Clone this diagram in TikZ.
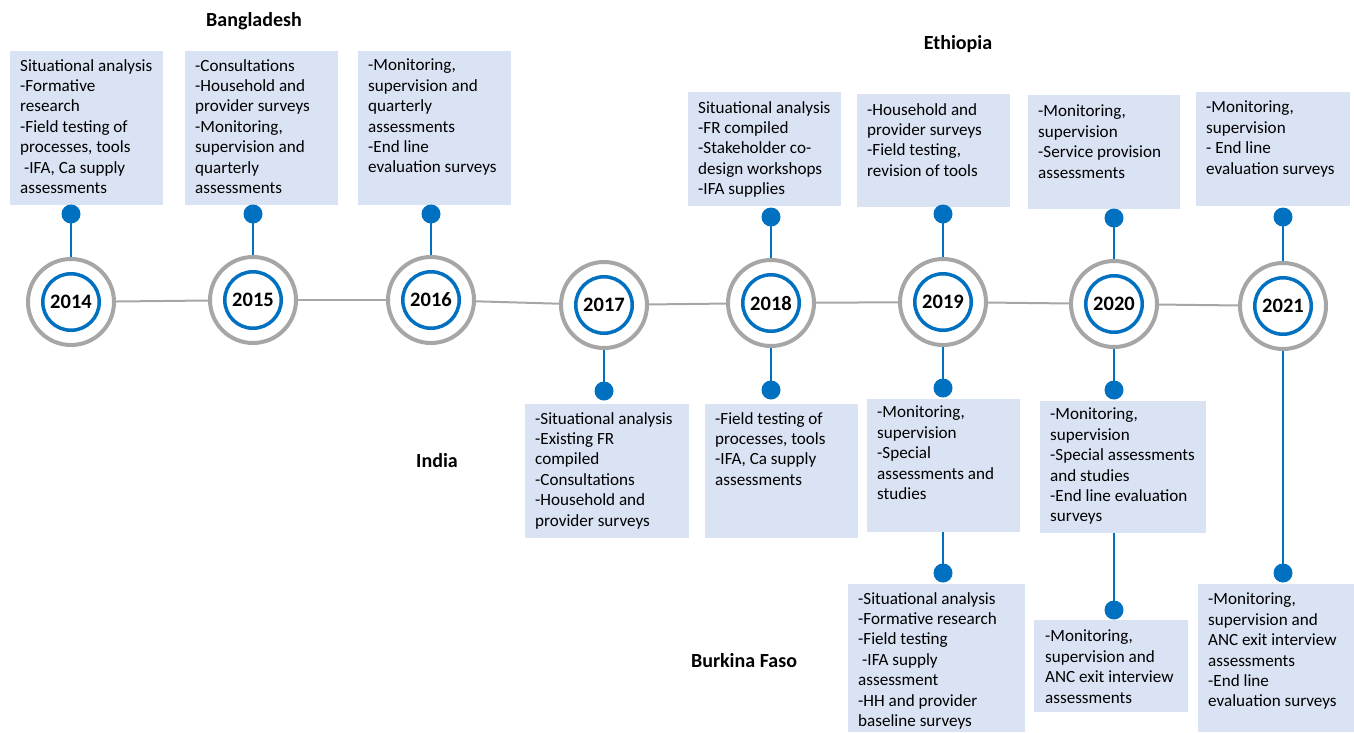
\documentclass[tikz,border=0pt]{standalone}
\usepackage{fontspec}
\setmainfont{Carlito}
\usetikzlibrary{calc,backgrounds}
\definecolor{boxfill}{HTML}{DAE3F3}
\definecolor{tlblue}{HTML}{0070C0}
\definecolor{ringgray}{HTML}{A6A6A6}
\begin{document}
\begin{tikzpicture}[x=1pt,y=-1pt,
 box/.style={fill=boxfill, draw=none, inner sep=0, anchor=north west},
 txt/.style={anchor=north west, inner sep=0, align=left, font=\fontsize{17.1}{20.4}\selectfont},
 ring/.style={circle, draw=ringgray, line width=4pt, fill=white, minimum size=86pt, inner sep=0},
 yr/.style={circle, draw=tlblue, line width=3.5pt, fill=white, minimum size=56.5pt, inner sep=0, font=\fontsize{20.5}{24}\selectfont\bfseries},
 dot/.style={circle, fill=tlblue, minimum size=19pt, inner sep=0},
 conn/.style={draw=tlblue, line width=2.5pt},
 axis/.style={draw=ringgray, line width=2pt},
 country/.style={font=\fontsize{20}{24}\selectfont\bfseries, inner sep=0}]
\useasboundingbox (0,0) rectangle (1354,732);

% boxes
\node[box, minimum width=153pt, minimum height=154pt] (b14) at (10,51) {};
\node[box, minimum width=153pt, minimum height=154pt] (b15) at (185,51) {};
\node[box, minimum width=153pt, minimum height=154pt] (b16) at (358,51) {};
\node[box, minimum width=153pt, minimum height=114pt] (b18) at (688,92) {};
\node[box, minimum width=153pt, minimum height=113pt] (b19) at (857,94) {};
\node[box, minimum width=152pt, minimum height=114pt] (b20) at (1028,95) {};
\node[box, minimum width=154pt, minimum height=114pt] (b21) at (1196,92) {};
\node[box, minimum width=164pt, minimum height=134pt] (b17l) at (525,404) {};
\node[box, minimum width=153pt, minimum height=134pt] (b18l) at (705,404) {};
\node[box, minimum width=153pt, minimum height=133pt] (b19l) at (867,399) {};
\node[box, minimum width=166pt, minimum height=132pt] (b20l) at (1040,401) {};
\node[box, minimum width=177pt, minimum height=148pt] (b19m) at (848,584) {};
\node[box, minimum width=154pt, minimum height=92pt] (b20m) at (1034,620) {};
\node[box, minimum width=156pt, minimum height=148pt] (b21m) at (1198,584) {};

% year circles
\node[ring] (r14) at (71,302) {};
\node[ring] (r15) at (253,300) {};
\node[ring] (r16) at (431,300) {};
\node[ring] (r17) at (604,305) {};
\node[ring] (r18) at (771,303) {};
\node[ring] (r19) at (943,302) {};
\node[ring] (r20) at (1114,304) {};
\node[ring] (r21) at (1283,306) {};
\node[yr] (y14) at (r14) {2014};
\node[yr] (y15) at (r15) {2015};
\node[yr] (y16) at (r16) {2016};
\node[yr] (y17) at (r17) {2017};
\node[yr] (y18) at (r18) {2018};
\node[yr] (y19) at (r19) {2019};
\node[yr] (y20) at (r20) {2020};
\node[yr] (y21) at (r21) {2021};

% dots
\node[dot] (d14) at (71,214) {};
\node[dot] (d15) at (253,214) {};
\node[dot] (d16) at (431,214) {};
\node[dot] (d18) at (771,217) {};
\node[dot] (d19) at (943,214) {};
\node[dot] (d20) at (1114,218) {};
\node[dot] (d21) at (1283,217) {};
\node[dot] (d17l) at (604,391) {};
\node[dot] (d18l) at (771,390) {};
\node[dot] (d19l) at (943,388) {};
\node[dot] (d20l) at (1114,390) {};
\node[dot] (d19m) at (943,573) {};
\node[dot] (d20m) at (1114,610) {};
\node[dot] (d21m) at (1283,573) {};

\begin{pgfonlayer}{background}
\draw[axis] (r14) -- (r15);
\draw[axis] (r15) -- (r16);
\draw[axis] (r16) -- (r17);
\draw[axis] (r17) -- (r18);
\draw[axis] (r18) -- (r19);
\draw[axis] (r19) -- (r20);
\draw[axis] (r20) -- (r21);
\draw[conn] (d14.center) -- (r14);
\draw[conn] (d15.center) -- (r15);
\draw[conn] (d16.center) -- (r16);
\draw[conn] (d18.center) -- (r18);
\draw[conn] (d19.center) -- (r19);
\draw[conn] (d20.center) -- (r20);
\draw[conn] (d21.center) -- (r21);
\draw[conn] (d17l.center) -- (r17);
\draw[conn] (d18l.center) -- (r18);
\draw[conn] (d19l.center) -- (r19);
\draw[conn] (d20l.center) -- (r20);
\draw[conn] (d21m.center) -- (r21);
\draw[conn] (d19m.center) -- (d19m |- b19l.south);
\draw[conn] (d20m.center) -- (d20m |- b20l.south);
\end{pgfonlayer}

% box texts
\node[txt] (t14) at ($(b14.north west)+(10,8)$) {Situational analysis\\-Formative\\research\\-Field testing of\\processes, tools\\\hspace{4pt}-IFA, Ca supply\\assessments};
\node[txt] (t15) at ($(b15.north west)+(10,8)$) {-Consultations\\-Household and\\provider surveys\\-Monitoring,\\supervision and\\quarterly\\assessments};
\node[txt] (t16) at ($(b16.north west)+(10,8)$) {-Monitoring,\\supervision and\\quarterly\\assessments\\-End line\\evaluation surveys};
\node[txt] (t18) at ($(b18.north west)+(10,9)$) {Situational analysis\\-FR compiled\\-Stakeholder co-\\design workshops\\-IFA supplies};
\node[txt] (t19) at ($(b19.north west)+(10,9)$) {-Household and\\provider surveys\\-Field testing,\\revision of tools};
\node[txt] (t20) at ($(b20.north west)+(10,10)$) {-Monitoring,\\supervision\\-Service provision\\assessments};
\node[txt] (t21) at ($(b21.north west)+(10,9)$) {-Monitoring,\\supervision\\- End line\\evaluation surveys};
\node[txt] (t17l) at ($(b17l.north west)+(10,8)$) {-Situational analysis\\-Existing FR\\compiled\\-Consultations\\-Household and\\provider surveys};
\node[txt] (t18l) at ($(b18l.north west)+(10,8)$) {-Field testing of\\processes, tools\\-IFA, Ca supply\\assessments};
\node[txt] (t19l) at ($(b19l.north west)+(10,7)$) {-Monitoring,\\supervision\\-Special\\assessments and\\studies};
\node[txt] (t20l) at ($(b20l.north west)+(10,7)$) {-Monitoring,\\supervision\\-Special assessments\\and studies\\-End line evaluation\\surveys};
\node[txt] (t19m) at ($(b19m.north west)+(10,8)$) {-Situational analysis\\-Formative research\\-Field testing\\\hspace{4pt}-IFA supply\\assessment\\-HH and provider\\baseline surveys};
\node[txt] (t20m) at ($(b20m.north west)+(11,10)$) {-Monitoring,\\supervision and\\ANC exit interview\\assessments};
\node[txt] (t21m) at ($(b21m.north west)+(10,9)$) {-Monitoring,\\supervision and\\ANC exit interview\\assessments\\-End line\\evaluation surveys};

% countries
\node[country] (bgd) at (254,21) {Bangladesh};
\node[country] (eth) at (958,44) {Ethiopia};
\node[country] (ind) at (437,461) {India};
\node[country] (bfa) at (744,661) {Burkina Faso};
\end{tikzpicture}
\end{document}
